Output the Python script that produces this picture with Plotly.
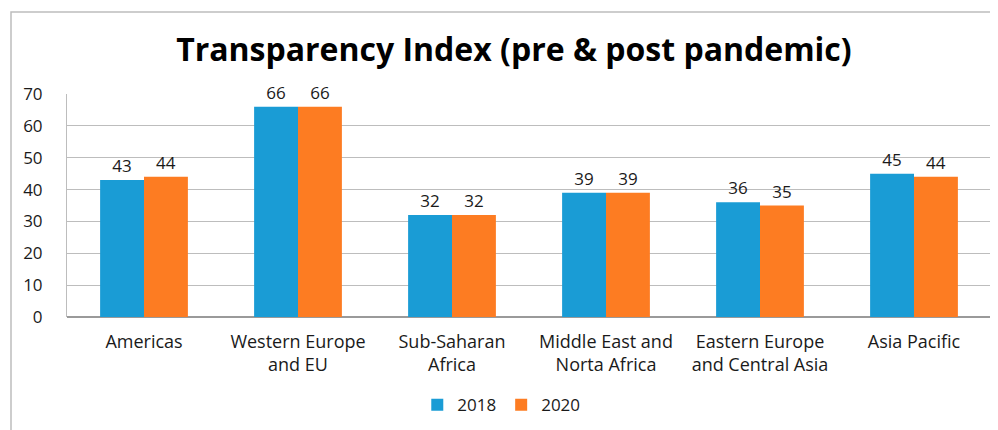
import plotly.graph_objects as go

categories = ["Americas", "Western Europe<br>and EU", "Sub-Saharan<br>Africa",
              "Middle East and<br>Norta Africa", "Eastern Europe<br>and Central Asia", "Asia Pacific"]
values_2018 = [43, 66, 32, 39, 36, 45]
values_2020 = [44, 66, 32, 39, 35, 44]
series_names = ["2018", "2020"]
colors = ["#1a9cd5", "#fd7c22"]
tick_vals = [0, 10, 20, 30, 40, 50, 60, 70]

fig = go.Figure()
for name, vals, col in zip(series_names, [values_2018, values_2020], colors):
    fig.add_trace(go.Bar(
        x=categories, y=vals, name=name, marker_color=col, marker_line_width=0,
        text=[str(v) for v in vals], textposition="outside",
        textfont=dict(size=17, color="#1a1a1a", family="Open Sans"),
        cliponaxis=False,
    ))

fig.update_layout(
    width=990, height=422,
    margin=dict(l=59, r=7, t=86, b=113),
    paper_bgcolor="white", plot_bgcolor="white",
    barmode="group", bargap=0.43, bargroupgap=0,
    title=dict(text="<b>Transparency Index (pre & post pandemic)</b>",
               x=0.511, xanchor="center", y=0.9, yanchor="middle",
               font=dict(size=32, color="black", family="Open Sans")),
    font=dict(family="Open Sans", color="#1a1a1a", size=16),
    xaxis=dict(showgrid=False, showline=False, ticks="", tickfont=dict(size=18),
               ticklabelstandoff=12),
    yaxis=dict(range=[0, 70], tickvals=tick_vals, showgrid=True, gridcolor="#bdbdbd", gridwidth=1,
               showline=True, linecolor="#bdbdbd", linewidth=1, zeroline=True, zerolinecolor="#9a9a9a",
               ticks="", ticklabelstandoff=20, tickfont=dict(size=17)),
    legend=dict(orientation="h", x=0.47, xanchor="center", y=-0.395, yanchor="middle",
                font=dict(size=17), itemwidth=30, tracegroupgap=0),
    shapes=[dict(type="rect", xref="paper", yref="paper", x0=-0.0606, x1=1.0065, y0=-0.6, y1=1.368,
                 line=dict(color="#bdbdbd", width=1.5), fillcolor="rgba(0,0,0,0)", layer="below")],
)

fig.write_html("out.html")
